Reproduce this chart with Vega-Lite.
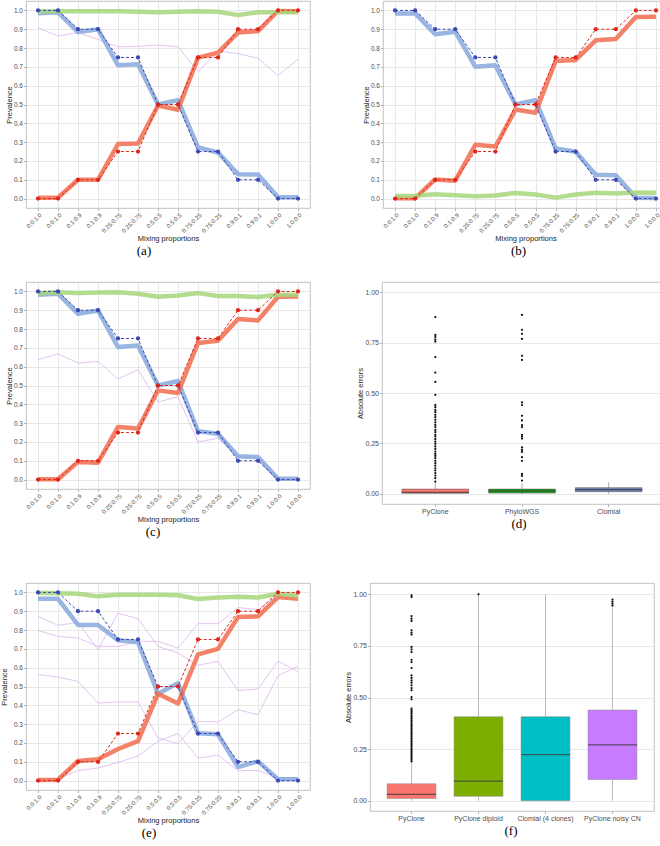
{
  "$schema": "https://vega.github.io/schema/vega-lite/v6.json",
  "background": "white",
  "padding": {"left": 0, "top": 0, "right": 0, "bottom": 0},
  "datasets": {
    "est": [
      {"panel":"a","idx":1,"series":"A est","value":0.985},{"panel":"a","idx":2,"series":"A est","value":0.99},{"panel":"a","idx":3,"series":"A est","value":0.885},{"panel":"a","idx":4,"series":"A est","value":0.9},{"panel":"a","idx":5,"series":"A est","value":0.708},{"panel":"a","idx":6,"series":"A est","value":0.714},{"panel":"a","idx":7,"series":"A est","value":0.5},{"panel":"a","idx":8,"series":"A est","value":0.523},{"panel":"a","idx":9,"series":"A est","value":0.272},{"panel":"a","idx":10,"series":"A est","value":0.245},{"panel":"a","idx":11,"series":"A est","value":0.13},{"panel":"a","idx":12,"series":"A est","value":0.128},{"panel":"a","idx":13,"series":"A est","value":0.007},{"panel":"a","idx":14,"series":"A est","value":0.007},
      {"panel":"a","idx":1,"series":"B est","value":0.005},{"panel":"a","idx":2,"series":"B est","value":0.005},{"panel":"a","idx":3,"series":"B est","value":0.1},{"panel":"a","idx":4,"series":"B est","value":0.1},{"panel":"a","idx":5,"series":"B est","value":0.29},{"panel":"a","idx":6,"series":"B est","value":0.293},{"panel":"a","idx":7,"series":"B est","value":0.495},{"panel":"a","idx":8,"series":"B est","value":0.472},{"panel":"a","idx":9,"series":"B est","value":0.749},{"panel":"a","idx":10,"series":"B est","value":0.776},{"panel":"a","idx":11,"series":"B est","value":0.882},{"panel":"a","idx":12,"series":"B est","value":0.89},{"panel":"a","idx":13,"series":"B est","value":0.997},{"panel":"a","idx":14,"series":"B est","value":0.995},
      {"panel":"a","idx":1,"series":"Normal est","value":0.995},{"panel":"a","idx":2,"series":"Normal est","value":0.995},{"panel":"a","idx":3,"series":"Normal est","value":0.995},{"panel":"a","idx":4,"series":"Normal est","value":0.995},{"panel":"a","idx":5,"series":"Normal est","value":0.995},{"panel":"a","idx":6,"series":"Normal est","value":0.993},{"panel":"a","idx":7,"series":"Normal est","value":0.99},{"panel":"a","idx":8,"series":"Normal est","value":0.993},{"panel":"a","idx":9,"series":"Normal est","value":0.995},{"panel":"a","idx":10,"series":"Normal est","value":0.993},{"panel":"a","idx":11,"series":"Normal est","value":0.975},{"panel":"a","idx":12,"series":"Normal est","value":0.99},{"panel":"a","idx":13,"series":"Normal est","value":0.99},{"panel":"a","idx":14,"series":"Normal est","value":0.99},
      {"panel":"a","idx":1,"series":"Other 1","value":0.908},{"panel":"a","idx":2,"series":"Other 1","value":0.864},{"panel":"a","idx":3,"series":"Other 1","value":0.882},{"panel":"a","idx":4,"series":"Other 1","value":0.846},{"panel":"a","idx":5,"series":"Other 1","value":0.806},{"panel":"a","idx":6,"series":"Other 1","value":0.809},{"panel":"a","idx":7,"series":"Other 1","value":0.816},{"panel":"a","idx":8,"series":"Other 1","value":0.807},{"panel":"a","idx":9,"series":"Other 1","value":0.673},{"panel":"a","idx":10,"series":"Other 1","value":0.784},{"panel":"a","idx":11,"series":"Other 1","value":0.77},{"panel":"a","idx":12,"series":"Other 1","value":0.746},{"panel":"a","idx":13,"series":"Other 1","value":0.654},{"panel":"a","idx":14,"series":"Other 1","value":0.74},

      {"panel":"b","idx":1,"series":"A est","value":0.984},{"panel":"b","idx":2,"series":"A est","value":0.984},{"panel":"b","idx":3,"series":"A est","value":0.873},{"panel":"b","idx":4,"series":"A est","value":0.887},{"panel":"b","idx":5,"series":"A est","value":0.7},{"panel":"b","idx":6,"series":"A est","value":0.708},{"panel":"b","idx":7,"series":"A est","value":0.5},{"panel":"b","idx":8,"series":"A est","value":0.523},{"panel":"b","idx":9,"series":"A est","value":0.267},{"panel":"b","idx":10,"series":"A est","value":0.249},{"panel":"b","idx":11,"series":"A est","value":0.127},{"panel":"b","idx":12,"series":"A est","value":0.124},{"panel":"b","idx":13,"series":"A est","value":0.004},{"panel":"b","idx":14,"series":"A est","value":0.003},
      {"panel":"b","idx":1,"series":"B est","value":0.002},{"panel":"b","idx":2,"series":"B est","value":0.002},{"panel":"b","idx":3,"series":"B est","value":0.102},{"panel":"b","idx":4,"series":"B est","value":0.095},{"panel":"b","idx":5,"series":"B est","value":0.286},{"panel":"b","idx":6,"series":"B est","value":0.277},{"panel":"b","idx":7,"series":"B est","value":0.473},{"panel":"b","idx":8,"series":"B est","value":0.456},{"panel":"b","idx":9,"series":"B est","value":0.731},{"panel":"b","idx":10,"series":"B est","value":0.737},{"panel":"b","idx":11,"series":"B est","value":0.841},{"panel":"b","idx":12,"series":"B est","value":0.848},{"panel":"b","idx":13,"series":"B est","value":0.965},{"panel":"b","idx":14,"series":"B est","value":0.966},
      {"panel":"b","idx":1,"series":"Normal est","value":0.014},{"panel":"b","idx":2,"series":"Normal est","value":0.015},{"panel":"b","idx":3,"series":"Normal est","value":0.023},{"panel":"b","idx":4,"series":"Normal est","value":0.018},{"panel":"b","idx":5,"series":"Normal est","value":0.013},{"panel":"b","idx":6,"series":"Normal est","value":0.017},{"panel":"b","idx":7,"series":"Normal est","value":0.03},{"panel":"b","idx":8,"series":"Normal est","value":0.022},{"panel":"b","idx":9,"series":"Normal est","value":0.005},{"panel":"b","idx":10,"series":"Normal est","value":0.022},{"panel":"b","idx":11,"series":"Normal est","value":0.031},{"panel":"b","idx":12,"series":"Normal est","value":0.027},{"panel":"b","idx":13,"series":"Normal est","value":0.033},{"panel":"b","idx":14,"series":"Normal est","value":0.031},

      {"panel":"c","idx":1,"series":"A est","value":0.982},{"panel":"c","idx":2,"series":"A est","value":0.988},{"panel":"c","idx":3,"series":"A est","value":0.881},{"panel":"c","idx":4,"series":"A est","value":0.899},{"panel":"c","idx":5,"series":"A est","value":0.704},{"panel":"c","idx":6,"series":"A est","value":0.713},{"panel":"c","idx":7,"series":"A est","value":0.5},{"panel":"c","idx":8,"series":"A est","value":0.524},{"panel":"c","idx":9,"series":"A est","value":0.257},{"panel":"c","idx":10,"series":"A est","value":0.244},{"panel":"c","idx":11,"series":"A est","value":0.124},{"panel":"c","idx":12,"series":"A est","value":0.12},{"panel":"c","idx":13,"series":"A est","value":0.004},{"panel":"c","idx":14,"series":"A est","value":0.004},
      {"panel":"c","idx":1,"series":"B est","value":0.002},{"panel":"c","idx":2,"series":"B est","value":0.002},{"panel":"c","idx":3,"series":"B est","value":0.094},{"panel":"c","idx":4,"series":"B est","value":0.09},{"panel":"c","idx":5,"series":"B est","value":0.28},{"panel":"c","idx":6,"series":"B est","value":0.271},{"panel":"c","idx":7,"series":"B est","value":0.474},{"panel":"c","idx":8,"series":"B est","value":0.46},{"panel":"c","idx":9,"series":"B est","value":0.726},{"panel":"c","idx":10,"series":"B est","value":0.738},{"panel":"c","idx":11,"series":"B est","value":0.853},{"panel":"c","idx":12,"series":"B est","value":0.846},{"panel":"c","idx":13,"series":"B est","value":0.972},{"panel":"c","idx":14,"series":"B est","value":0.973},
      {"panel":"c","idx":1,"series":"Normal est","value":0.99},{"panel":"c","idx":2,"series":"Normal est","value":0.995},{"panel":"c","idx":3,"series":"Normal est","value":0.991},{"panel":"c","idx":4,"series":"Normal est","value":0.994},{"panel":"c","idx":5,"series":"Normal est","value":0.995},{"panel":"c","idx":6,"series":"Normal est","value":0.988},{"panel":"c","idx":7,"series":"Normal est","value":0.972},{"panel":"c","idx":8,"series":"Normal est","value":0.978},{"panel":"c","idx":9,"series":"Normal est","value":0.991},{"panel":"c","idx":10,"series":"Normal est","value":0.976},{"panel":"c","idx":11,"series":"Normal est","value":0.976},{"panel":"c","idx":12,"series":"Normal est","value":0.97},{"panel":"c","idx":13,"series":"Normal est","value":0.982},{"panel":"c","idx":14,"series":"Normal est","value":0.982},
      {"panel":"c","idx":1,"series":"Other 1","value":0.637},{"panel":"c","idx":2,"series":"Other 1","value":0.669},{"panel":"c","idx":3,"series":"Other 1","value":0.619},{"panel":"c","idx":4,"series":"Other 1","value":0.628},{"panel":"c","idx":5,"series":"Other 1","value":0.535},{"panel":"c","idx":6,"series":"Other 1","value":0.584},{"panel":"c","idx":7,"series":"Other 1","value":0.412},{"panel":"c","idx":8,"series":"Other 1","value":0.44},{"panel":"c","idx":9,"series":"Other 1","value":0.2},{"panel":"c","idx":10,"series":"Other 1","value":0.22},{"panel":"c","idx":11,"series":"Other 1","value":0.12},{"panel":"c","idx":12,"series":"Other 1","value":0.115},{"panel":"c","idx":13,"series":"Other 1","value":0.003},{"panel":"c","idx":14,"series":"Other 1","value":0.003},

      {"panel":"e","idx":1,"series":"A est","value":0.966},{"panel":"e","idx":2,"series":"A est","value":0.966},{"panel":"e","idx":3,"series":"A est","value":0.827},{"panel":"e","idx":4,"series":"A est","value":0.827},{"panel":"e","idx":5,"series":"A est","value":0.746},{"panel":"e","idx":6,"series":"A est","value":0.735},{"panel":"e","idx":7,"series":"A est","value":0.461},{"panel":"e","idx":8,"series":"A est","value":0.518},{"panel":"e","idx":9,"series":"A est","value":0.251},{"panel":"e","idx":10,"series":"A est","value":0.246},{"panel":"e","idx":11,"series":"A est","value":0.072},{"panel":"e","idx":12,"series":"A est","value":0.102},{"panel":"e","idx":13,"series":"A est","value":0.007},{"panel":"e","idx":14,"series":"A est","value":0.007},
      {"panel":"e","idx":1,"series":"B est","value":0.003},{"panel":"e","idx":2,"series":"B est","value":0.005},{"panel":"e","idx":3,"series":"B est","value":0.104},{"panel":"e","idx":4,"series":"B est","value":0.113},{"panel":"e","idx":5,"series":"B est","value":0.168},{"panel":"e","idx":6,"series":"B est","value":0.21},{"panel":"e","idx":7,"series":"B est","value":0.461},{"panel":"e","idx":8,"series":"B est","value":0.41},{"panel":"e","idx":9,"series":"B est","value":0.671},{"panel":"e","idx":10,"series":"B est","value":0.7},{"panel":"e","idx":11,"series":"B est","value":0.869},{"panel":"e","idx":12,"series":"B est","value":0.873},{"panel":"e","idx":13,"series":"B est","value":0.975},{"panel":"e","idx":14,"series":"B est","value":0.966},
      {"panel":"e","idx":1,"series":"Normal est","value":0.998},{"panel":"e","idx":2,"series":"Normal est","value":0.995},{"panel":"e","idx":3,"series":"Normal est","value":0.993},{"panel":"e","idx":4,"series":"Normal est","value":0.979},{"panel":"e","idx":5,"series":"Normal est","value":0.988},{"panel":"e","idx":6,"series":"Normal est","value":0.988},{"panel":"e","idx":7,"series":"Normal est","value":0.988},{"panel":"e","idx":8,"series":"Normal est","value":0.985},{"panel":"e","idx":9,"series":"Normal est","value":0.965},{"panel":"e","idx":10,"series":"Normal est","value":0.973},{"panel":"e","idx":11,"series":"Normal est","value":0.977},{"panel":"e","idx":12,"series":"Normal est","value":0.973},{"panel":"e","idx":13,"series":"Normal est","value":0.993},{"panel":"e","idx":14,"series":"Normal est","value":0.982},
      {"panel":"e","idx":1,"series":"Other 1","value":0.873},{"panel":"e","idx":2,"series":"Other 1","value":0.825},{"panel":"e","idx":3,"series":"Other 1","value":0.841},{"panel":"e","idx":4,"series":"Other 1","value":0.696},{"panel":"e","idx":5,"series":"Other 1","value":0.89},{"panel":"e","idx":6,"series":"Other 1","value":0.86},{"panel":"e","idx":7,"series":"Other 1","value":0.713},{"panel":"e","idx":8,"series":"Other 1","value":0.678},{"panel":"e","idx":9,"series":"Other 1","value":0.612},{"panel":"e","idx":10,"series":"Other 1","value":0.634},{"panel":"e","idx":11,"series":"Other 1","value":0.478},{"panel":"e","idx":12,"series":"Other 1","value":0.487},{"panel":"e","idx":13,"series":"Other 1","value":0.634},{"panel":"e","idx":14,"series":"Other 1","value":0.58},
      {"panel":"e","idx":1,"series":"Other 2","value":0.798},{"panel":"e","idx":2,"series":"Other 2","value":0.766},{"panel":"e","idx":3,"series":"Other 2","value":0.758},{"panel":"e","idx":4,"series":"Other 2","value":0.713},{"panel":"e","idx":5,"series":"Other 2","value":0.713},{"panel":"e","idx":6,"series":"Other 2","value":0.74},{"panel":"e","idx":7,"series":"Other 2","value":0.74},{"panel":"e","idx":8,"series":"Other 2","value":0.704},{"panel":"e","idx":9,"series":"Other 2","value":0.834},{"panel":"e","idx":10,"series":"Other 2","value":0.834},{"panel":"e","idx":11,"series":"Other 2","value":0.92},{"panel":"e","idx":12,"series":"Other 2","value":0.908},{"panel":"e","idx":13,"series":"Other 2","value":0.988},{"panel":"e","idx":14,"series":"Other 2","value":0.99},
      {"panel":"e","idx":1,"series":"Other 3","value":0.563},{"panel":"e","idx":2,"series":"Other 3","value":0.55},{"panel":"e","idx":3,"series":"Other 3","value":0.527},{"panel":"e","idx":4,"series":"Other 3","value":0.412},{"panel":"e","idx":5,"series":"Other 3","value":0.418},{"panel":"e","idx":6,"series":"Other 3","value":0.418},{"panel":"e","idx":7,"series":"Other 3","value":0.227},{"panel":"e","idx":8,"series":"Other 3","value":0.196},{"panel":"e","idx":9,"series":"Other 3","value":0.315},{"panel":"e","idx":10,"series":"Other 3","value":0.311},{"panel":"e","idx":11,"series":"Other 3","value":0.377},{"panel":"e","idx":12,"series":"Other 3","value":0.35},{"panel":"e","idx":13,"series":"Other 3","value":0.558},{"panel":"e","idx":14,"series":"Other 3","value":0.607},
      {"panel":"e","idx":1,"series":"Other 4","value":0.005},{"panel":"e","idx":2,"series":"Other 4","value":0.01},{"panel":"e","idx":3,"series":"Other 4","value":0.053},{"panel":"e","idx":4,"series":"Other 4","value":0.067},{"panel":"e","idx":5,"series":"Other 4","value":0.097},{"panel":"e","idx":6,"series":"Other 4","value":0.13},{"panel":"e","idx":7,"series":"Other 4","value":0.21},{"panel":"e","idx":8,"series":"Other 4","value":0.25},{"panel":"e","idx":9,"series":"Other 4","value":0.12},{"panel":"e","idx":10,"series":"Other 4","value":0.135},{"panel":"e","idx":11,"series":"Other 4","value":0.053},{"panel":"e","idx":12,"series":"Other 4","value":0.053},{"panel":"e","idx":13,"series":"Other 4","value":0.014},{"panel":"e","idx":14,"series":"Other 4","value":0.014}
    ],
    "truth": [
      {"idx":1,"series":"A true","value":1},{"idx":2,"series":"A true","value":1},{"idx":3,"series":"A true","value":0.9},{"idx":4,"series":"A true","value":0.9},{"idx":5,"series":"A true","value":0.75},{"idx":6,"series":"A true","value":0.75},{"idx":7,"series":"A true","value":0.5},{"idx":8,"series":"A true","value":0.5},{"idx":9,"series":"A true","value":0.25},{"idx":10,"series":"A true","value":0.25},{"idx":11,"series":"A true","value":0.1},{"idx":12,"series":"A true","value":0.1},{"idx":13,"series":"A true","value":0},{"idx":14,"series":"A true","value":0},
      {"idx":1,"series":"B true","value":0},{"idx":2,"series":"B true","value":0},{"idx":3,"series":"B true","value":0.1},{"idx":4,"series":"B true","value":0.1},{"idx":5,"series":"B true","value":0.25},{"idx":6,"series":"B true","value":0.25},{"idx":7,"series":"B true","value":0.5},{"idx":8,"series":"B true","value":0.5},{"idx":9,"series":"B true","value":0.75},{"idx":10,"series":"B true","value":0.75},{"idx":11,"series":"B true","value":0.9},{"idx":12,"series":"B true","value":0.9},{"idx":13,"series":"B true","value":1},{"idx":14,"series":"B true","value":1}
    ],
    "boxes": [
      {"panel":"d","method":"PyClone","lo":0,"q1":0.003,"med":0.008,"q3":0.024,"hi":0.055},
      {"panel":"d","method":"PhyloWGS","lo":0,"q1":0.004,"med":0.015,"q3":0.024,"hi":0.055},
      {"panel":"d","method":"Clomial","lo":0,"q1":0.011,"med":0.021,"q3":0.031,"hi":0.058},
      {"panel":"f","method":"PyClone","lo":0,"q1":0.01,"med":0.031,"q3":0.082,"hi":0.185},
      {"panel":"f","method":"PyClone diploid","lo":0,"q1":0.021,"med":0.095,"q3":0.407,"hi":0.995},
      {"panel":"f","method":"Clomial (4 clones)","lo":0,"q1":0,"med":0.223,"q3":0.407,"hi":1},
      {"panel":"f","method":"PyClone noisy CN","lo":0,"q1":0.103,"med":0.27,"q3":0.439,"hi":0.935}
    ],
    "outliers": [
      {"panel":"d","method":"PyClone","value":0.876},{"panel":"d","method":"PyClone","value":0.788},{"panel":"d","method":"PyClone","value":0.777},{"panel":"d","method":"PyClone","value":0.764},{"panel":"d","method":"PyClone","value":0.754},{"panel":"d","method":"PyClone","value":0.678},{"panel":"d","method":"PyClone","value":0.601},{"panel":"d","method":"PyClone","value":0.555},{"panel":"d","method":"PyClone","value":0.491},{"panel":"d","method":"PyClone","value":0.441},{"panel":"d","method":"PyClone","value":0.43},{"panel":"d","method":"PyClone","value":0.416},{"panel":"d","method":"PyClone","value":0.405},{"panel":"d","method":"PyClone","value":0.392},{"panel":"d","method":"PyClone","value":0.38},{"panel":"d","method":"PyClone","value":0.367},{"panel":"d","method":"PyClone","value":0.355},{"panel":"d","method":"PyClone","value":0.342},{"panel":"d","method":"PyClone","value":0.331},{"panel":"d","method":"PyClone","value":0.317},{"panel":"d","method":"PyClone","value":0.306},{"panel":"d","method":"PyClone","value":0.293},{"panel":"d","method":"PyClone","value":0.284},{"panel":"d","method":"PyClone","value":0.271},{"panel":"d","method":"PyClone","value":0.259},{"panel":"d","method":"PyClone","value":0.248},{"panel":"d","method":"PyClone","value":0.235},{"panel":"d","method":"PyClone","value":0.223},{"panel":"d","method":"PyClone","value":0.21},{"panel":"d","method":"PyClone","value":0.198},{"panel":"d","method":"PyClone","value":0.188},{"panel":"d","method":"PyClone","value":0.177},{"panel":"d","method":"PyClone","value":0.164},{"panel":"d","method":"PyClone","value":0.152},{"panel":"d","method":"PyClone","value":0.14},{"panel":"d","method":"PyClone","value":0.127},{"panel":"d","method":"PyClone","value":0.116},{"panel":"d","method":"PyClone","value":0.103},{"panel":"d","method":"PyClone","value":0.091},{"panel":"d","method":"PyClone","value":0.078},{"panel":"d","method":"PyClone","value":0.061},
      {"panel":"d","method":"PhyloWGS","value":0.887},{"panel":"d","method":"PhyloWGS","value":0.813},{"panel":"d","method":"PhyloWGS","value":0.793},{"panel":"d","method":"PhyloWGS","value":0.768},{"panel":"d","method":"PhyloWGS","value":0.684},{"panel":"d","method":"PhyloWGS","value":0.664},{"panel":"d","method":"PhyloWGS","value":0.453},{"panel":"d","method":"PhyloWGS","value":0.44},{"panel":"d","method":"PhyloWGS","value":0.387},{"panel":"d","method":"PhyloWGS","value":0.364},{"panel":"d","method":"PhyloWGS","value":0.341},{"panel":"d","method":"PhyloWGS","value":0.331},{"panel":"d","method":"PhyloWGS","value":0.293},{"panel":"d","method":"PhyloWGS","value":0.284},{"panel":"d","method":"PhyloWGS","value":0.274},{"panel":"d","method":"PhyloWGS","value":0.23},{"panel":"d","method":"PhyloWGS","value":0.218},{"panel":"d","method":"PhyloWGS","value":0.208},{"panel":"d","method":"PhyloWGS","value":0.182},{"panel":"d","method":"PhyloWGS","value":0.164},{"panel":"d","method":"PhyloWGS","value":0.099},{"panel":"d","method":"PhyloWGS","value":0.089},{"panel":"d","method":"PhyloWGS","value":0.066},
      {"panel":"f","method":"PyClone","value":0.995},{"panel":"f","method":"PyClone","value":0.987},{"panel":"f","method":"PyClone","value":0.895},{"panel":"f","method":"PyClone","value":0.882},{"panel":"f","method":"PyClone","value":0.871},{"panel":"f","method":"PyClone","value":0.826},{"panel":"f","method":"PyClone","value":0.814},{"panel":"f","method":"PyClone","value":0.805},{"panel":"f","method":"PyClone","value":0.745},{"panel":"f","method":"PyClone","value":0.733},{"panel":"f","method":"PyClone","value":0.72},{"panel":"f","method":"PyClone","value":0.683},{"panel":"f","method":"PyClone","value":0.672},{"panel":"f","method":"PyClone","value":0.643},{"panel":"f","method":"PyClone","value":0.607},{"panel":"f","method":"PyClone","value":0.595},{"panel":"f","method":"PyClone","value":0.583},{"panel":"f","method":"PyClone","value":0.572},{"panel":"f","method":"PyClone","value":0.559},{"panel":"f","method":"PyClone","value":0.546},{"panel":"f","method":"PyClone","value":0.535},{"panel":"f","method":"PyClone","value":0.502},{"panel":"f","method":"PyClone","value":0.491},{"panel":"f","method":"PyClone","value":0.446},{"panel":"f","method":"PyClone","value":0.438},{"panel":"f","method":"PyClone","value":0.43},{"panel":"f","method":"PyClone","value":0.422},{"panel":"f","method":"PyClone","value":0.414},{"panel":"f","method":"PyClone","value":0.406},{"panel":"f","method":"PyClone","value":0.398},{"panel":"f","method":"PyClone","value":0.39},{"panel":"f","method":"PyClone","value":0.382},{"panel":"f","method":"PyClone","value":0.374},{"panel":"f","method":"PyClone","value":0.366},{"panel":"f","method":"PyClone","value":0.358},{"panel":"f","method":"PyClone","value":0.35},{"panel":"f","method":"PyClone","value":0.342},{"panel":"f","method":"PyClone","value":0.334},{"panel":"f","method":"PyClone","value":0.326},{"panel":"f","method":"PyClone","value":0.318},{"panel":"f","method":"PyClone","value":0.31},{"panel":"f","method":"PyClone","value":0.302},{"panel":"f","method":"PyClone","value":0.294},{"panel":"f","method":"PyClone","value":0.286},{"panel":"f","method":"PyClone","value":0.278},{"panel":"f","method":"PyClone","value":0.27},{"panel":"f","method":"PyClone","value":0.262},{"panel":"f","method":"PyClone","value":0.254},{"panel":"f","method":"PyClone","value":0.246},{"panel":"f","method":"PyClone","value":0.238},{"panel":"f","method":"PyClone","value":0.23},{"panel":"f","method":"PyClone","value":0.222},{"panel":"f","method":"PyClone","value":0.214},{"panel":"f","method":"PyClone","value":0.206},{"panel":"f","method":"PyClone","value":0.198},{"panel":"f","method":"PyClone","value":0.19},
      {"panel":"f","method":"PyClone diploid","value":1.0},
      {"panel":"f","method":"PyClone noisy CN","value":0.975},{"panel":"f","method":"PyClone noisy CN","value":0.965},{"panel":"f","method":"PyClone noisy CN","value":0.955},{"panel":"f","method":"PyClone noisy CN","value":0.945}
    ]
  },
  "vconcat": [
    {
      "vconcat": [
        {
          "hconcat": [
            {
              "width": 284, "height": 207,
              "title": {"text": "(a)", "orient": "bottom", "offset": 3, "frame": "group", "dx": -24},
              "encoding": {
                "x": {"field": "idx", "type": "ordinal", "scale": {"type": "point", "padding": 0.6}, "axis": {"title": "Mixing proportions", "labelAngle": -45, "labelFontSize": 6, "labelOverlap": false, "grid": true, "titlePadding": 1, "labelExpr": "['0.0:1.0','0.0:1.0','0.1:0.9','0.1:0.9','0.25:0.75','0.25:0.75','0.5:0.5','0.5:0.5','0.75:0.25','0.75:0.25','0.9:0.1','0.9:0.1','1.0:0.0','1.0:0.0'][datum.value - 1]"}},
                "y": {"field": "value", "type": "quantitative", "scale": {"domain": [-0.05, 1.05], "nice": false, "zero": false}, "axis": {"title": "Prevalence", "values": [0,0.1,0.2,0.3,0.4,0.5,0.6,0.7,0.8,0.9,1], "format": ".1f", "grid": true, "titlePadding": 0}},
                "color": {"field": "series", "type": "nominal", "legend": null, "scale": {"domain": ["A est","B est","Normal est","Other 1","Other 2","Other 3","Other 4","A true","B true"], "range": ["#87a8dc","#f26c4f","#a6d67a","#ddb4ef","#ddb4ef","#ddb4ef","#ddb4ef","#3c48b4","#e0261c"]}}
              },
              "layer": [
                {"data": {"name": "est"}, "transform": [{"filter": "datum.panel == 'a' && indexof(datum.series, 'Other') == 0"}], "mark": {"type": "line", "strokeWidth": 0.8}},
                {"data": {"name": "est"}, "transform": [{"filter": "datum.panel == 'a' && indexof(datum.series, 'Other') < 0"}], "mark": {"type": "line", "strokeWidth": 4.5, "opacity": 0.85, "strokeJoin": "round"}},
                {"data": {"name": "truth"}, "mark": {"type": "line", "strokeWidth": 1, "strokeDash": [3, 2]}},
                {"data": {"name": "truth"}, "mark": {"type": "circle", "size": 18, "opacity": 1}}
              ]
            },
            {
              "width": 285, "height": 207,
              "title": {"text": "(b)", "orient": "bottom", "offset": 3, "frame": "group", "dx": -7},
              "encoding": {
                "x": {"field": "idx", "type": "ordinal", "scale": {"type": "point", "padding": 0.6}, "axis": {"title": "Mixing proportions", "labelAngle": -45, "labelFontSize": 6, "labelOverlap": false, "grid": true, "titlePadding": 1, "labelExpr": "['0.0:1.0','0.0:1.0','0.1:0.9','0.1:0.9','0.25:0.75','0.25:0.75','0.5:0.5','0.5:0.5','0.75:0.25','0.75:0.25','0.9:0.1','0.9:0.1','1.0:0.0','1.0:0.0'][datum.value - 1]"}},
                "y": {"field": "value", "type": "quantitative", "scale": {"domain": [-0.05, 1.05], "nice": false, "zero": false}, "axis": {"title": "Prevalence", "values": [0,0.1,0.2,0.3,0.4,0.5,0.6,0.7,0.8,0.9,1], "format": ".1f", "grid": true, "titlePadding": 0}},
                "color": {"field": "series", "type": "nominal", "legend": null, "scale": {"domain": ["A est","B est","Normal est","Other 1","Other 2","Other 3","Other 4","A true","B true"], "range": ["#87a8dc","#f26c4f","#a6d67a","#ddb4ef","#ddb4ef","#ddb4ef","#ddb4ef","#3c48b4","#e0261c"]}}
              },
              "layer": [
                {"data": {"name": "est"}, "transform": [{"filter": "datum.panel == 'b' && indexof(datum.series, 'Other') < 0"}], "mark": {"type": "line", "strokeWidth": 4.5, "opacity": 0.85, "strokeJoin": "round"}},
                {"data": {"name": "truth"}, "mark": {"type": "line", "strokeWidth": 1, "strokeDash": [3, 2]}},
                {"data": {"name": "truth"}, "mark": {"type": "circle", "size": 18, "opacity": 1}}
              ]
            }
          ],
          "spacing": 51,
          "resolve": {"scale": {"x": "independent", "y": "independent", "color": "independent"}}
        },
        {
          "hconcat": [
            {
              "width": 284, "height": 207,
              "title": {"text": "(c)", "orient": "bottom", "offset": 3, "frame": "group", "dx": -15},
              "encoding": {
                "x": {"field": "idx", "type": "ordinal", "scale": {"type": "point", "padding": 0.6}, "axis": {"title": "Mixing proportions", "labelAngle": -45, "labelFontSize": 6, "labelOverlap": false, "grid": true, "titlePadding": 1, "labelExpr": "['0.0:1.0','0.0:1.0','0.1:0.9','0.1:0.9','0.25:0.75','0.25:0.75','0.5:0.5','0.5:0.5','0.75:0.25','0.75:0.25','0.9:0.1','0.9:0.1','1.0:0.0','1.0:0.0'][datum.value - 1]"}},
                "y": {"field": "value", "type": "quantitative", "scale": {"domain": [-0.05, 1.05], "nice": false, "zero": false}, "axis": {"title": "Prevalence", "values": [0,0.1,0.2,0.3,0.4,0.5,0.6,0.7,0.8,0.9,1], "format": ".1f", "grid": true, "titlePadding": 0}},
                "color": {"field": "series", "type": "nominal", "legend": null, "scale": {"domain": ["A est","B est","Normal est","Other 1","Other 2","Other 3","Other 4","A true","B true"], "range": ["#87a8dc","#f26c4f","#a6d67a","#ddb4ef","#ddb4ef","#ddb4ef","#ddb4ef","#3c48b4","#e0261c"]}}
              },
              "layer": [
                {"data": {"name": "est"}, "transform": [{"filter": "datum.panel == 'c' && indexof(datum.series, 'Other') == 0"}], "mark": {"type": "line", "strokeWidth": 0.8}},
                {"data": {"name": "est"}, "transform": [{"filter": "datum.panel == 'c' && indexof(datum.series, 'Other') < 0"}], "mark": {"type": "line", "strokeWidth": 4.5, "opacity": 0.85, "strokeJoin": "round"}},
                {"data": {"name": "truth"}, "mark": {"type": "line", "strokeWidth": 1, "strokeDash": [3, 2]}},
                {"data": {"name": "truth"}, "mark": {"type": "circle", "size": 18, "opacity": 1}}
              ]
            },
            {
              "width": 280, "height": 222,
              "title": {"text": "(d)", "orient": "bottom", "offset": 3, "frame": "group", "dx": -3},
              "encoding": {
                "x": {"field": "method", "type": "nominal", "scale": {"type": "band", "domain": ["PyClone","PhyloWGS","Clomial"], "paddingInner": 0.23, "paddingOuter": 0.23}, "axis": {"title": null, "labelAngle": 0, "labelFontSize": 7, "grid": false}}
              },
              "layer": [
                {"data": {"name": "boxes"}, "transform": [{"filter": "datum.panel == 'd'"}], "mark": {"type": "rule", "color": "#999999", "strokeWidth": 0.8},
                 "encoding": {"y": {"field": "lo", "type": "quantitative", "scale": {"domain": [-0.05, 1.05], "nice": false, "zero": false}, "axis": {"title": "Absolute errors", "values": [0,0.25,0.5,0.75,1], "format": ".2f", "grid": true, "labelFontSize": 7, "titlePadding": 0}}, "y2": {"field": "hi"}}},
                {"data": {"name": "boxes"}, "transform": [{"filter": "datum.panel == 'd'"}], "mark": {"type": "bar", "stroke": "#555555", "strokeWidth": 0.5},
                 "encoding": {"y": {"field": "q1", "type": "quantitative", "scale": {"domain": [-0.05, 1.05], "nice": false, "zero": false}, "axis": {"title": "Absolute errors", "values": [0,0.25,0.5,0.75,1], "format": ".2f", "grid": true, "labelFontSize": 7, "titlePadding": 0}}, "y2": {"field": "q3"},
                  "color": {"field": "method", "type": "nominal", "legend": null, "scale": {"domain": ["PyClone","PhyloWGS","Clomial"], "range": ["#f8766d","#22a322","#7087bb"]}}}},
                {"data": {"name": "boxes"}, "transform": [{"filter": "datum.panel == 'd'"}], "mark": {"type": "tick", "color": "#333333", "thickness": 1.2, "size": 67},
                 "encoding": {"y": {"field": "med", "type": "quantitative", "scale": {"domain": [-0.05, 1.05], "nice": false, "zero": false}, "axis": {"title": "Absolute errors", "values": [0,0.25,0.5,0.75,1], "format": ".2f", "grid": true, "labelFontSize": 7, "titlePadding": 0}}}},
                {"data": {"name": "outliers"}, "transform": [{"filter": "datum.panel == 'd'"}], "mark": {"type": "circle", "size": 5, "color": "#111111", "opacity": 1},
                 "encoding": {"y": {"field": "value", "type": "quantitative", "scale": {"domain": [-0.05, 1.05], "nice": false, "zero": false}, "axis": {"title": "Absolute errors", "values": [0,0.25,0.5,0.75,1], "format": ".2f", "grid": true, "labelFontSize": 7, "titlePadding": 0}}}}
              ]
            }
          ],
          "spacing": 45,
          "resolve": {"scale": {"x": "independent", "y": "independent", "color": "independent"}}
        }
      ],
      "spacing": 22,
      "resolve": {"scale": {"x": "independent", "y": "independent", "color": "independent"}}
    },
    {
      "hconcat": [
        {
          "width": 284, "height": 207,
          "title": {"text": "(e)", "orient": "bottom", "offset": 3, "frame": "group", "dx": -19},
          "encoding": {
            "x": {"field": "idx", "type": "ordinal", "scale": {"type": "point", "padding": 0.6}, "axis": {"title": "Mixing proportions", "labelAngle": -45, "labelFontSize": 6, "labelOverlap": false, "grid": true, "titlePadding": 1, "labelExpr": "['0.0:1.0','0.0:1.0','0.1:0.9','0.1:0.9','0.25:0.75','0.25:0.75','0.5:0.5','0.5:0.5','0.75:0.25','0.75:0.25','0.9:0.1','0.9:0.1','1.0:0.0','1.0:0.0'][datum.value - 1]"}},
            "y": {"field": "value", "type": "quantitative", "scale": {"domain": [-0.05, 1.05], "nice": false, "zero": false}, "axis": {"title": "Prevalence", "values": [0,0.1,0.2,0.3,0.4,0.5,0.6,0.7,0.8,0.9,1], "format": ".1f", "grid": true, "titlePadding": 5}},
            "color": {"field": "series", "type": "nominal", "legend": null, "scale": {"domain": ["A est","B est","Normal est","Other 1","Other 2","Other 3","Other 4","A true","B true"], "range": ["#87a8dc","#f26c4f","#a6d67a","#ddb4ef","#ddb4ef","#ddb4ef","#ddb4ef","#3c48b4","#e0261c"]}}
          },
          "layer": [
            {"data": {"name": "est"}, "transform": [{"filter": "datum.panel == 'e' && indexof(datum.series, 'Other') == 0"}], "mark": {"type": "line", "strokeWidth": 0.8}},
            {"data": {"name": "est"}, "transform": [{"filter": "datum.panel == 'e' && indexof(datum.series, 'Other') < 0"}], "mark": {"type": "line", "strokeWidth": 4.5, "opacity": 0.85, "strokeJoin": "round"}},
            {"data": {"name": "truth"}, "mark": {"type": "line", "strokeWidth": 1, "strokeDash": [3, 2]}},
            {"data": {"name": "truth"}, "mark": {"type": "circle", "size": 18, "opacity": 1}}
          ]
        },
        {
          "width": 284, "height": 228,
          "title": {"text": "(f)", "orient": "bottom", "offset": 3, "frame": "group", "dx": -1},
          "encoding": {
            "x": {"field": "method", "type": "nominal", "scale": {"type": "band", "domain": ["PyClone","PyClone diploid","Clomial (4 clones)","PyClone noisy CN"], "paddingInner": 0.27, "paddingOuter": 0.255}, "axis": {"title": null, "labelAngle": 0, "labelFontSize": 7, "grid": false}}
          },
          "layer": [
            {"data": {"name": "boxes"}, "transform": [{"filter": "datum.panel == 'f'"}], "mark": {"type": "rule", "color": "#aaaaaa", "strokeWidth": 0.8},
             "encoding": {"y": {"field": "lo", "type": "quantitative", "scale": {"domain": [-0.05, 1.055], "nice": false, "zero": false}, "axis": {"title": "Absolute errors", "values": [0,0.25,0.5,0.75,1], "format": ".2f", "grid": true, "labelFontSize": 7, "titlePadding": 0}}, "y2": {"field": "hi"}}},
            {"data": {"name": "boxes"}, "transform": [{"filter": "datum.panel == 'f'"}], "mark": {"type": "bar", "stroke": "#888888", "strokeWidth": 0.5},
             "encoding": {"y": {"field": "q1", "type": "quantitative", "scale": {"domain": [-0.05, 1.055], "nice": false, "zero": false}, "axis": {"title": "Absolute errors", "values": [0,0.25,0.5,0.75,1], "format": ".2f", "grid": true, "labelFontSize": 7, "titlePadding": 0}}, "y2": {"field": "q3"},
              "color": {"field": "method", "type": "nominal", "legend": null, "scale": {"domain": ["PyClone","PyClone diploid","Clomial (4 clones)","PyClone noisy CN"], "range": ["#f8766d","#7cae00","#00bfc4","#c77cff"]}}}},
            {"data": {"name": "boxes"}, "transform": [{"filter": "datum.panel == 'f'"}], "mark": {"type": "tick", "color": "#3a3a3a", "opacity": 0.75, "thickness": 1.3, "size": 49},
             "encoding": {"y": {"field": "med", "type": "quantitative", "scale": {"domain": [-0.05, 1.055], "nice": false, "zero": false}, "axis": {"title": "Absolute errors", "values": [0,0.25,0.5,0.75,1], "format": ".2f", "grid": true, "labelFontSize": 7, "titlePadding": 0}}}},
            {"data": {"name": "outliers"}, "transform": [{"filter": "datum.panel == 'f'"}], "mark": {"type": "circle", "size": 5, "color": "#111111", "opacity": 1},
             "encoding": {"y": {"field": "value", "type": "quantitative", "scale": {"domain": [-0.05, 1.055], "nice": false, "zero": false}, "axis": {"title": "Absolute errors", "values": [0,0.25,0.5,0.75,1], "format": ".2f", "grid": true, "labelFontSize": 7, "titlePadding": 0}}}}
          ]
        }
      ],
      "spacing": 33,
      "resolve": {"scale": {"x": "independent", "y": "independent", "color": "independent"}}
    }
  ],
  "spacing": 42,
  "resolve": {"scale": {"x": "independent", "y": "independent", "color": "independent"}},
  "config": {
    "font": "Liberation Sans",
    "view": {"stroke": "#b3b3b3", "strokeWidth": 0.8},
    "axis": {"labelFont": "Liberation Sans", "labelFontSize": 6.5, "labelColor": "#4d4d4d", "titleFont": "Liberation Sans", "titleFontSize": 7.5, "titleFontWeight": "normal", "titleColor": "#222222", "domain": false, "tickColor": "#b3b3b3", "tickSize": 2.5, "labelPadding": 1, "gridColor": "#dedede", "gridWidth": 0.7},
    "title": {"font": "Liberation Serif", "fontSize": 13, "fontWeight": "normal", "color": "#000000"}
  }
}
